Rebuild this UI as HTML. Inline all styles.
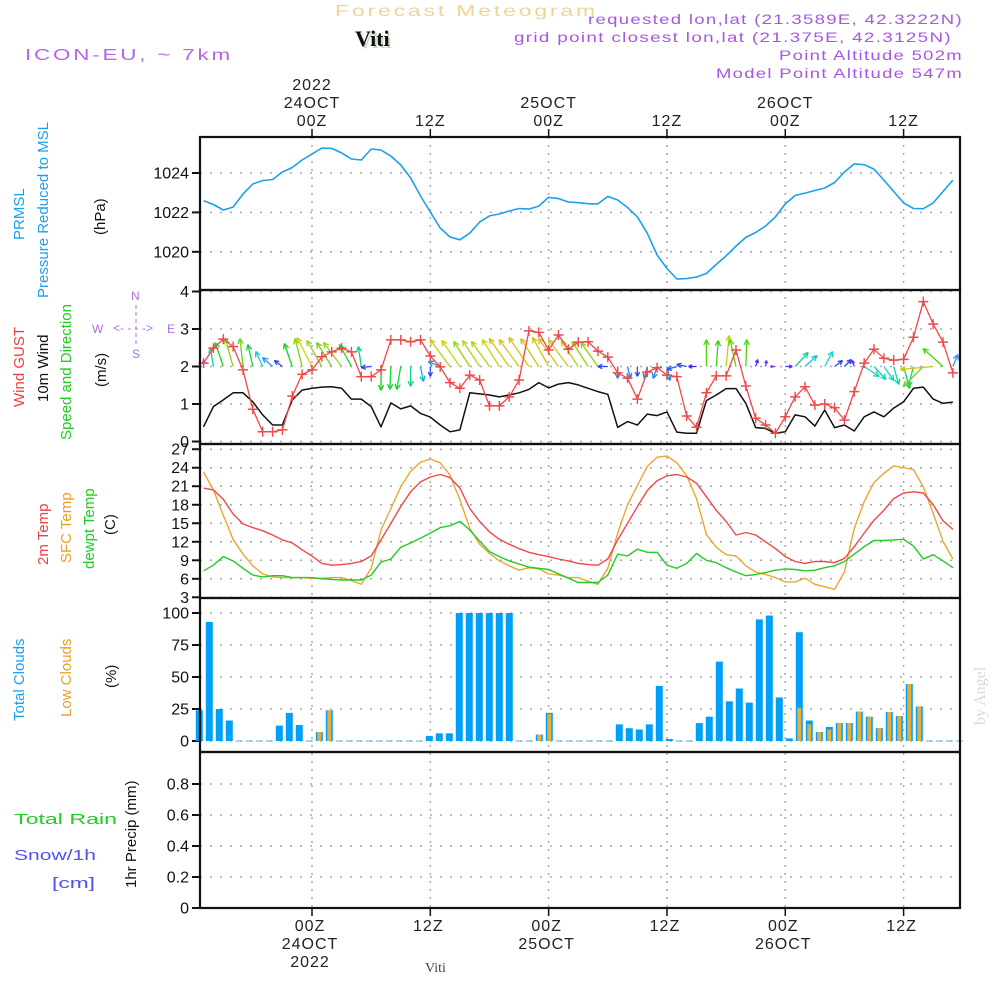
<!DOCTYPE html>
<html><head><meta charset="utf-8"><title>Meteogram Viti</title>
<style>
html,body{margin:0;padding:0;background:#fff;}
svg{display:block;font-family:"Liberation Sans",sans-serif;}
</style></head>
<body>
<svg id="chart" width="1000" height="1000" viewBox="0 0 1000 1000" xmlns="http://www.w3.org/2000/svg">
<g id="static">
 <text x="335" y="16" fill="#f2d296" font-size="16" letter-spacing="2" textLength="263" lengthAdjust="spacingAndGlyphs">Forecast Meteogram</text>
 <text x="357" y="48" fill="#c8d8c0" font-family="Liberation Serif,serif" font-weight="bold" font-size="22">Viti</text>
 <text x="355" y="46" fill="#111" font-family="Liberation Serif,serif" font-weight="bold" font-size="22">Viti</text>
 <text x="25" y="60" fill="#b466e6" font-size="16" letter-spacing="2" textLength="208" lengthAdjust="spacingAndGlyphs">ICON-EU, ~ 7km</text>
 <text x="588" y="24" fill="#a855e8" font-size="14" letter-spacing="1" textLength="375" lengthAdjust="spacingAndGlyphs">requested lon,lat (21.3589E, 42.3222N)</text>
 <text x="514" y="42" fill="#a855e8" font-size="14" letter-spacing="1" textLength="438" lengthAdjust="spacingAndGlyphs">grid point closest lon,lat (21.375E, 42.3125N)</text>
 <text x="779" y="60" fill="#a855e8" font-size="14" letter-spacing="1" textLength="184" lengthAdjust="spacingAndGlyphs">Point Altitude 502m</text>
 <text x="716" y="78" fill="#a855e8" font-size="14" letter-spacing="1" textLength="247" lengthAdjust="spacingAndGlyphs">Model Point Altitude 547m</text>
 <text transform="translate(985,725) rotate(-90)" fill="#d8d8d8" font-family="Liberation Serif,serif" font-size="16">by Angel</text>
 <text x="425" y="972" fill="#444" font-family="Liberation Serif,serif" font-size="14">Viti</text>

 <text transform="translate(24,240) rotate(-90)" fill="#1aa0f0" font-size="15">PRMSL</text>
 <text transform="translate(48,298) rotate(-90)" fill="#1aa0f0" font-size="15" textLength="176" lengthAdjust="spacing">Pressure Reduced to MSL</text>
 <text transform="translate(105,235) rotate(-90)" fill="#111" font-size="15">(hPa)</text>
 <text transform="translate(24,407) rotate(-90)" fill="#f04040" font-size="15">Wind GUST</text>
 <text transform="translate(48,402) rotate(-90)" fill="#111" font-size="15">10m Wind</text>
 <text transform="translate(71,440) rotate(-90)" fill="#22cc22" font-size="15">Speed and Direction</text>
 <text transform="translate(106,387) rotate(-90)" fill="#111" font-size="15">(m/s)</text>
 <g fill="#b070e0" font-size="12">
  <text x="131" y="300">N</text><text x="92" y="333">W</text><text x="167" y="333">E</text><text x="132" y="358">S</text>
  <text x="113" y="332" font-size="12">&lt;- - - -&gt;</text>
  <line x1="136" y1="305" x2="136" y2="347" stroke="#b070e0" stroke-dasharray="4,3"/>
 </g>
 <text transform="translate(48,565) rotate(-90)" fill="#f04040" font-size="15">2m Temp</text>
 <text transform="translate(71,563) rotate(-90)" fill="#e8a020" font-size="15">SFC Temp</text>
 <text transform="translate(94,569) rotate(-90)" fill="#22cc22" font-size="15">dewpt Temp</text>
 <text transform="translate(115,535) rotate(-90)" fill="#111" font-size="15">(C)</text>
 <text transform="translate(24,721) rotate(-90)" fill="#1aa0f0" font-size="15">Total Clouds</text>
 <text transform="translate(71,717) rotate(-90)" fill="#e8a020" font-size="15">Low Clouds</text>
 <text transform="translate(116,688) rotate(-90)" fill="#111" font-size="15">(%)</text>
 <text x="14" y="824" fill="#22cc22" font-size="15" textLength="103" lengthAdjust="spacingAndGlyphs">Total    Rain</text>
 <text x="14" y="860" fill="#5050f0" font-size="15" textLength="82" lengthAdjust="spacingAndGlyphs">Snow/1h</text>
 <text x="52" y="888" fill="#5050f0" font-size="15" textLength="43" lengthAdjust="spacingAndGlyphs">[cm]</text>
 <text transform="translate(136,888) rotate(-90)" fill="#111" font-size="15">1hr Precip (mm)</text>
</g>
<g id="dyn"></g>
</svg>
<script>
const pressure = [1022.59,1022.40,1022.12,1022.27,1022.93,1023.44,1023.62,1023.67,1024.05,1024.28,1024.66,1024.96,1025.27,1025.25,1025.02,1024.71,1024.66,1025.22,1025.17,1024.86,1024.41,1023.75,1022.83,1022.02,1021.21,1020.75,1020.61,1020.95,1021.51,1021.82,1021.92,1022.07,1022.20,1022.17,1022.32,1022.76,1022.70,1022.53,1022.49,1022.44,1022.43,1022.81,1022.63,1022.25,1021.77,1020.95,1019.84,1019.15,1018.62,1018.64,1018.72,1018.90,1019.36,1019.79,1020.29,1020.73,1020.98,1021.31,1021.77,1022.43,1022.86,1022.98,1023.11,1023.24,1023.52,1024.05,1024.46,1024.42,1024.20,1023.64,1023.06,1022.48,1022.20,1022.19,1022.48,1023.06,1023.64];
const windGust = [2.09,2.49,2.73,2.53,1.91,0.86,0.26,0.26,0.31,1.21,1.79,1.91,2.26,2.39,2.49,2.39,1.73,1.73,1.91,2.71,2.71,2.66,2.71,2.28,1.99,1.57,1.42,1.77,1.64,0.95,0.95,1.19,1.64,2.95,2.91,2.44,2.84,2.46,2.65,2.66,2.41,2.25,1.83,1.69,1.13,1.85,1.97,1.77,1.73,0.68,0.38,1.30,1.75,1.75,2.44,1.48,0.62,0.44,0.22,0.66,1.19,1.46,0.97,1.00,0.90,0.57,1.33,2.09,2.46,2.22,2.17,2.19,2.78,3.73,3.13,2.65,1.83];
const windSpeed = [0.39,0.93,1.11,1.30,1.30,1.06,0.71,0.44,0.44,1.11,1.37,1.42,1.45,1.46,1.42,1.13,1.13,0.93,0.39,1.03,0.87,0.95,0.75,0.65,0.44,0.26,0.31,1.30,1.27,1.24,1.19,1.24,1.30,1.39,1.57,1.43,1.53,1.57,1.51,1.42,1.33,1.26,0.38,0.53,0.44,0.73,0.69,0.79,0.25,0.22,0.22,1.09,1.24,1.41,1.41,1.02,0.37,0.35,0.22,0.26,0.71,0.66,0.41,0.84,0.37,0.44,0.28,0.66,0.79,0.66,0.89,1.06,1.42,1.45,1.13,1.02,1.05];
const windU = [0,-3,-8,-8,-3,-5,-7,-10,-8,-8,-7,-15,-15,-15,-18,-12,-3,-10,0,-1,-4,0,3,0,-12,-20,-18,-16,-17,-18,-17,-20,-20,-20,-18,-16,-20,-20,-17,-16,-17,-10,0,3,0,-3,-4,3,-10,-10,-8,0,2,3,-6,1,2,1,-5,7,13,12,0,8,8,7,-2,15,12,10,5,6,-5,-20,-33,-20,5];
const windV = [6,19,24,28,28,22,15,9,6,23,28,29,26,24,24,22,20,-1,-24,-23,-23,-20,-15,-10,5,27,26,25,26,25,27,28,27,29,28,29,28,27,26,25,24,0,-12,-12,-10,-12,-12,-14,-3,2,0,27,26,31,27,27,7,6,0,0,14,11,0,15,6,7,6,-10,-13,-14,-18,-22,-20,-20,-3,18,12];
const temp2m = [20.7,20.4,18.9,16.5,14.9,14.3,13.8,13.1,12.3,11.8,10.7,9.7,8.5,8.2,8.3,8.5,8.8,9.7,12.3,15.0,17.7,20.1,21.7,22.5,22.9,22.4,20.7,17.4,15.3,13.6,12.4,11.6,10.9,10.3,9.9,9.6,9.2,8.9,8.5,8.3,8.2,9.2,12.3,15.0,17.7,20.3,21.9,22.7,22.9,22.5,21.5,19.3,17.1,15.3,13.1,13.5,13.1,12.0,10.9,9.6,8.8,8.5,8.8,8.8,8.6,9.3,11.2,13.4,15.5,17.1,19.0,19.9,20.1,19.9,18.0,15.4,14.0];
const tempSfc = [23.3,20.4,16.3,12.4,10.0,8.1,6.8,6.3,6.2,6.2,6.2,6.1,6.1,6.2,6.2,5.7,5.1,7.7,13.9,17.4,20.9,23.4,24.9,25.4,24.8,22.8,18.8,14.2,11.6,10.1,8.9,8.1,7.4,7.8,7.6,6.8,6.6,6.2,6.2,5.6,5.1,7.7,13.4,18.0,21.1,24.2,25.7,25.9,24.8,22.7,19.0,13.2,11.1,9.9,9.7,8.1,7.1,6.7,6.2,5.5,5.5,6.1,5.1,4.7,4.3,7.1,14.2,18.5,21.6,23.1,24.3,24.0,23.7,20.9,16.6,12.1,9.2];
const dewpoint = [7.3,8.2,9.6,8.9,7.7,6.6,6.3,6.5,6.5,6.2,6.2,6.2,6.0,5.9,5.8,5.8,5.8,6.6,8.7,9.2,11.1,11.8,12.6,13.4,14.3,14.6,15.3,13.9,12.1,10.4,9.6,8.9,8.4,7.9,7.7,7.5,6.8,6.1,5.4,5.4,5.4,6.6,10.0,9.7,10.8,10.3,10.3,8.2,7.7,8.5,10.1,9.0,8.6,7.8,7.1,6.5,6.7,7.0,7.4,7.6,7.5,7.3,7.4,7.8,8.1,8.8,10.0,11.2,12.2,12.2,12.3,12.4,11.3,9.2,9.9,8.9,7.8];
const totalClouds = [24,93,25,16,0,0,0,0,12,22,12.5,0,7,24,0,0,0,0,0,0,0,0,0,4,6,6,100,100,100,100,100,100,0,0,5,22,0,0,0,0,0,0,13,10,9,13,43,1.5,0,0,14,19,62,31,41,30,95,98,34,2,85,16,7,11,14,14,23,19,10,22.6,19.5,44.5,27,0,0,0,0];
const lowClouds = [0,0,0,0,0,0,0,0,0,0,0,0,7,24,0,0,0,0,0,0,0,0,0,0,0,0,0,0,0,0,0,0,0,0,5,21,0,0,0,0,0,0,0,0,0,0,0,0,0,0,0,0,0,0,0,0,0,0,0,0,26,13,7,9,14,14,23,19,10,22.6,19.5,44.5,27,0,0,0,0];
const precip = new Array(77).fill(0);
const pressTicks = [1020,1022,1024];
const windTicks = [0,1,2,3,4];
const tempTicks = [3,6,9,12,15,18,21,24,27];
const cloudTicks = [0,25,50,75,100];
const precipTicks = [0,0.2,0.4,0.6,0.8];
const timeTicks = [0,12,24,36,48,60];
const topLabels = [["2022","24OCT","00Z"],["12Z"],["25OCT","00Z"],["12Z"],["26OCT","00Z"],["12Z"]];
const bottomLabels = [["00Z","24OCT","2022"],["12Z"],["00Z","25OCT"],["12Z"],["00Z","26OCT"],["12Z"]];

const L=200,R=960;
const P={press:[137,290],wind:[290,444],temp:[444,598],cloud:[598,752],precip:[752,908]};
const NS='http://www.w3.org/2000/svg';
const dyn=document.getElementById('dyn');
function el(tag,attrs,parent){const e=document.createElementNS(NS,tag);for(const k in attrs)e.setAttribute(k,attrs[k]);(parent||dyn).appendChild(e);return e;}
const xTime=h=>312+h*9.86;
const xIdx=i=>xTime(i-11);
const xBar=i=>199.3+i*10;
const yPress=v=>173+(1024-v)*19.7;
const yWind=v=>441.5-v*37.5;
const yTemp=v=>597.3-(v-3)*6.17;
const yCloud=v=>741-v*1.28;
const yPrecip=v=>908-v*155;

function hgrid(vals,yf,name){vals.forEach(v=>{const y=yf(v);
 const g=el('line',{x1:L,x2:R,y1:y,y2:y,stroke:'#aaa','stroke-width':1.5,'stroke-dasharray':'2,8'});
 
 
 const t=el('line',{x1:L-8,x2:L,y1:y,y2:y,stroke:'#111','stroke-width':2});
 
 
 const tx=el('text',{x:L-11,y:y+5.5,'text-anchor':'end','font-size':16,fill:'#111'});
 tx.textContent=String(v);
 
 
});}
hgrid(pressTicks,yPress,'pressure-axis');
hgrid(windTicks,yWind,'wind-axis');
hgrid(tempTicks,yTemp,'temp-axis');
hgrid(cloudTicks,yCloud,'cloud-axis');
hgrid(precipTicks,yPrecip,'precip-axis');
timeTicks.forEach(h=>{const x=xTime(h);
 const g=el('line',{x1:x,x2:x,y1:137,y2:908,stroke:'#aaa','stroke-width':1.5,'stroke-dasharray':'2,6'});
 
 
 const t1=el('line',{x1:x,x2:x,y1:129,y2:137,stroke:'#111','stroke-width':1.5});
 
 
 const t2=el('line',{x1:x,x2:x,y1:908,y2:916,stroke:'#111','stroke-width':1.5});
 
 
});
topLabels.forEach((lines,k)=>{const x=xTime(timeTicks[k]);lines.forEach((s,j)=>{
 const t=el('text',{x:x,y:126-(lines.length-1-j)*18,'text-anchor':'middle','font-size':16,fill:'#222','letter-spacing':'1'});
 t.textContent=s;
 
 
});});
bottomLabels.forEach((lines,k)=>{const x=xTime(timeTicks[k])-2;lines.forEach((s,j)=>{
 const t=el('text',{x:x,y:931+j*18,'text-anchor':'middle','font-size':16,fill:'#222','letter-spacing':'1'});
 t.textContent=s;
 
 
});});

function poly(arr,xf,yf,color,name,w){
 const pts=arr.map((v,i)=>xf(i).toFixed(1)+','+yf(v).toFixed(1)).join(' ');
 const p=el('polyline',{points:pts,fill:'none',stroke:color,'stroke-width':w||1.4,'stroke-linejoin':'round'});
 
 
 return p;
}
poly(pressure,xIdx,yPress,'#1aa0f0','pressure-line',1.6);
poly(windSpeed,xIdx,yWind,'#111','wind-speed-line',1.5);
function arrowColor(m){let h=270-(m-5)/28*215;h=Math.max(55,Math.min(275,h));return 'hsl('+h+',85%,'+(h>200?55:45)+'%)';}
windU.forEach((u,i)=>{const v=windV[i];const m=Math.hypot(u,v);if(m<1)return;
 const x0=xIdx(i),y0=yWind(2),x1=x0+u,y1=y0-v;const c=arrowColor(m);
 const g=el('g',{stroke:c,'stroke-width':1.3,fill:'none'});
 
 
 el('line',{x1:x0,y1:y0,x2:x1,y2:y1},g);
 const a=Math.atan2(y1-y0,x1-x0);const hl=Math.min(6,m*0.5);
 [0.45,-0.45].forEach(d=>el('line',{x1:x1,y1:y1,x2:x1-hl*Math.cos(a+d),y2:y1-hl*Math.sin(a+d)},g));
});
poly(windGust,xIdx,yWind,'#f04848','wind-gust-line',1.3);
windGust.forEach((v,i)=>{const x=xIdx(i),y=yWind(v);
 const p=el('path',{d:`M${x-5},${y}h10M${x},${y-5}v10`,stroke:'#f04848','stroke-width':1.4});
 
 
});
poly(tempSfc,xIdx,yTemp,'#e8a830','sfc-temp-line',1.4);
poly(temp2m,xIdx,yTemp,'#f04848','temp-2m-line',1.4);
poly(dewpoint,xIdx,yTemp,'#22cc22','dewpoint-line',1.4);
totalClouds.forEach((v,i)=>{const x=xBar(i);
 if(v>0){const b=el('rect',{x:x-3.5,y:yCloud(v),width:7,height:yCloud(0)-yCloud(v),fill:'#00a0f8'});
  
  }
 else{const z=el('line',{x1:x-3.5,x2:x+3.5,y1:741,y2:741,stroke:'#7ab8e0','stroke-width':1.2});
  
  }
 const lv=lowClouds[i];
 if(lv>0){const b2=el('rect',{x:x-2,y:yCloud(lv),width:4,height:yCloud(0)-yCloud(lv),fill:'#e8ac38'});
  
  }
});
poly(precip,xIdx,yPrecip,'#222','precip-line',1.5).setAttribute('stroke-dasharray','6,3');
Object.keys(P).forEach(k=>{const [t,b]=P[k];
 const r=el('rect',{x:L,y:t,width:R-L,height:b-t,fill:'none',stroke:'#111','stroke-width':2.2});
 
 
});
</script>
</body></html>
